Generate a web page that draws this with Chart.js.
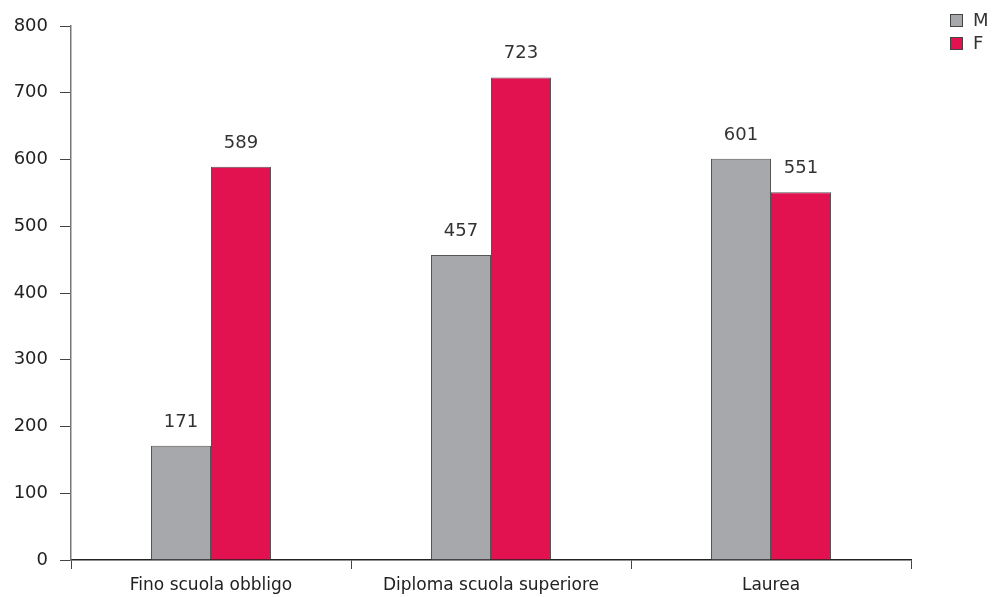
<!DOCTYPE html>
<html>
<head>
<meta charset="utf-8">
<script src="https://cdn.jsdelivr.net/npm/chart.js@4.4.0/dist/chart.umd.min.js"></script>
<style>
  html, body { margin: 0; padding: 0; background: #fff; }
  #wrap { width: 994px; height: 597px; }
</style>
</head>
<body>
<div id="wrap"><canvas id="chart"></canvas></div>
<script>
// dati
const categories = ['Fino scuola obbligo', 'Diploma scuola superiore', 'Laurea'];
const seriesNames = ['M', 'F'];
const valuesM = [171, 457, 601];
const valuesF = [589, 723, 551];
const yTicks = [0, 100, 200, 300, 400, 500, 600, 700, 800];

const colors = ['#a7a8ac', '#e2114f'];
const FONT = 'DejaVu Sans';

// etichette sopra le barre
const valueLabels = {
  id: 'valueLabels',
  afterDatasetsDraw(chart) {
    const ctx = chart.ctx;
    ctx.save();
    ctx.font = '18px ' + FONT;
    ctx.fillStyle = '#333';
    ctx.textAlign = 'center';
    ctx.textBaseline = 'middle';
    chart.data.datasets.forEach((ds, i) => {
      chart.getDatasetMeta(i).data.forEach((bar, j) => {
        ctx.fillText(ds.data[j], bar.x, bar.y - 24);
      });
    });
    ctx.restore();
  }
};

// legenda in alto a destra
const cornerLegend = {
  id: 'cornerLegend',
  afterDraw(chart) {
    const ctx = chart.ctx;
    ctx.save();
    ctx.font = '18px ' + FONT;
    ctx.textBaseline = 'middle';
    chart.data.datasets.forEach((ds, i) => {
      const y = 14 + i * 23;
      ctx.fillStyle = ds.backgroundColor;
      ctx.fillRect(950, y, 13, 13);
      ctx.strokeStyle = '#444';
      ctx.lineWidth = 1;
      ctx.strokeRect(950.5, y + 0.5, 12, 12);
      ctx.fillStyle = '#333';
      ctx.fillText(ds.label, 973, y + 7);
    });
    ctx.restore();
  }
};

new Chart(document.getElementById('chart'), {
  type: 'bar',
  data: {
    labels: categories,
    datasets: [
      { label: seriesNames[0], data: valuesM, backgroundColor: colors[0], borderColor: '#555', borderWidth: 1 },
      { label: seriesNames[1], data: valuesF, backgroundColor: colors[1], borderColor: '#555', borderWidth: 1 }
    ]
  },
  options: {
    responsive: true,
    maintainAspectRatio: false,
    animation: false,
    layout: { padding: { top: 26, right: 83, left: 0, bottom: 0 } },
    datasets: { bar: { categoryPercentage: 120 / 280, barPercentage: 1.0 } },
    plugins: {
      legend: { display: false },
      tooltip: { enabled: false }
    },
    scales: {
      x: {
        grid: { display: true, drawOnChartArea: false, offset: true, color: '#444', tickLength: 9 },
        border: { color: '#222', width: 1.5 },
        ticks: { color: '#222', font: { family: FONT, size: 17 }, padding: 6, maxRotation: 0 },
        afterFit(scale) { scale.height = 37; }
      },
      y: {
        min: 0,
        max: 800,
        afterBuildTicks(scale) { scale.ticks = yTicks.map(v => ({ value: v })); },
        grid: { display: true, drawOnChartArea: false, color: '#444', tickLength: 11 },
        border: { color: '#777', width: 1.5 },
        ticks: { color: '#222', font: { family: FONT, size: 18 }, padding: 12 },
        afterFit(scale) { scale.width = 71; }
      }
    }
  },
  plugins: [valueLabels, cornerLegend]
});
</script>
</body>
</html>
